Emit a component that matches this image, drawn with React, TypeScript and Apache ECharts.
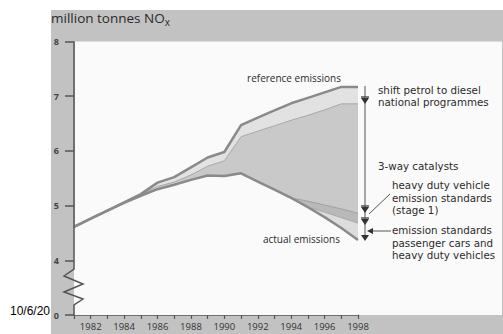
import React, { useEffect, useRef } from "react";
import * as echarts from "echarts";

const years = [1981, 1982, 1983, 1984, 1985, 1986, 1987, 1988, 1989, 1990, 1991, 1992, 1993, 1994, 1995, 1996, 1997, 1998];
const referenceEmissions = [4.61, 4.76, 4.91, 5.06, 5.21, 5.42, 5.52, 5.7, 5.88, 5.98, 6.47, 6.61, 6.74, 6.87, 6.97, 7.07, 7.17, 7.17];
const afterShiftNational = [4.61, 4.76, 4.91, 5.06, 5.2, 5.35, 5.43, 5.56, 5.72, 5.82, 6.26, 6.36, 6.46, 6.56, 6.65, 6.75, 6.86, 6.86];
const afterThreeWay = [4.61, 4.76, 4.91, 5.05, 5.18, 5.3, 5.38, 5.47, 5.55, 5.54, 5.59, 5.44, 5.29, 5.14, 5.08, 5.01, 4.94, 4.86];
const afterHdvStage1 = [4.61, 4.76, 4.91, 5.05, 5.18, 5.3, 5.38, 5.47, 5.55, 5.54, 5.59, 5.44, 5.29, 5.14, 4.97, 4.88, 4.78, 4.68];
const actualEmissions = [4.61, 4.76, 4.91, 5.05, 5.18, 5.3, 5.38, 5.47, 5.55, 5.54, 5.59, 5.44, 5.29, 5.14, 4.97, 4.79, 4.59, 4.37];
const yTickLabels: Record<number, string> = { 3: "0", 4: "4", 5: "5", 6: "6", 7: "7", 8: "8" };

const FONT = "'Open Sans', 'DejaVu Sans', sans-serif";
const NOTE_FONT = "'DejaVu Sans', 'Open Sans', sans-serif";

function pairs(vals: number[]) {
  return years.map((y, i) => [y, vals[i]]);
}

export default function App() {
  const ref = useRef<HTMLDivElement>(null);
  useEffect(() => {
    if (!ref.current) return;
    const chart = echarts.init(ref.current, null, { renderer: "svg" });
    const fill = (name: string, vals: number[], color: string) => ({
      type: "line",
      name,
      data: pairs(vals),
      symbol: "none",
      lineStyle: { width: 0 },
      areaStyle: { color, opacity: 1, origin: "start" },
      z: 2,
      silent: true,
    });
    const line = (name: string, vals: number[], color: string, width: number) => ({
      type: "line",
      name,
      data: pairs(vals),
      symbol: "none",
      lineStyle: { color, width },
      z: 4,
      silent: true,
    });
    const txt = (x: number, y: number, text: string, size = 10.3, align = "left", lh = 12.4, family = NOTE_FONT) => ({
      type: "text",
      x,
      y,
      z: 100,
      style: {
        text,
        fill: "#2a2a2a",
        fontSize: size,
        fontFamily: family,
        lineHeight: lh,
        align,
        verticalAlign: "top",
      },
    });
    const seg = (x1: number, y1: number, x2: number, y2: number, w = 1) => ({
      type: "line",
      z: 100,
      shape: { x1, y1, x2, y2 },
      style: { stroke: "#555", lineWidth: w },
    });
    const tri = (cx: number, cy: number) => ({
      type: "polygon",
      z: 100,
      shape: { points: [[cx - 4, cy - 3], [cx + 4, cy - 3], [cx, cy + 3]] },
      style: { fill: "#333" },
    });

    chart.setOption({
      animation: false,
      backgroundColor: "#ffffff",
      grid: { left: 74, right: 145, top: 41.5, bottom: 19, outerBoundsMode: "none" },
      xAxis: {
        type: "value",
        min: 1981,
        max: 1998,
        interval: 1,
        axisLine: { show: true, lineStyle: { color: "#555", width: 1.5 } },
        axisTick: { show: true, length: 4, lineStyle: { color: "#555", width: 1.2 } },
        axisLabel: {
          margin: 6,
          fontSize: 9.5,
          color: "#333",
          fontFamily: FONT,
          formatter: (v: number) => (v % 2 === 0 ? String(v) : ""),
        },
        splitLine: { show: false },
      },
      yAxis: {
        type: "value",
        min: 3,
        max: 8,
        interval: 1,
        axisLine: { show: false },
        axisTick: { show: true, length: 9, lineStyle: { color: "#555", width: 1.5 } },
        axisLabel: {
          margin: 15,
          fontSize: 9,
          fontWeight: "bold",
          color: "#444",
          fontFamily: FONT,
          formatter: (v: number) => yTickLabels[v] ?? "",
        },
        splitLine: { show: false },
      },
      series: [
        fill("reference fill", referenceEmissions, "#e2e2e2"),
        fill("national fill", afterShiftNational, "#c9c9c9"),
        fill("3-way fill", afterThreeWay, "#b9b9b9"),
        fill("hdv fill", afterHdvStage1, "#dcdcdc"),
        fill("actual fill", actualEmissions, "#fafafa"),
        line("national programmes", afterShiftNational, "#a9a9a9", 1),
        line("3-way catalysts", afterThreeWay, "#a0a0a0", 1),
        line("heavy duty stage 1", afterHdvStage1, "#a9a9a9", 1),
        line("reference emissions", referenceEmissions, "#8a8a8a", 2.5),
        line("actual emissions", actualEmissions, "#8a8a8a", 2.5),
      ],
      graphic: [
        { type: "rect", z: -20, shape: { x: 51, y: 10, width: 452, height: 324 }, style: { fill: "#c2c2c2" } },
        { type: "rect", z: -19, shape: { x: 75, y: 41.5, width: 427, height: 273.5 }, style: { fill: "#fafafa" } },
        {
          type: "text",
          x: 50,
          y: 311,
          z: 100,
          style: { text: "10/6/20", fill: "#000", font: "12px 'Liberation Sans', Arial, sans-serif", align: "right", verticalAlign: "middle" },
        },
        {
          type: "text",
          x: 51,
          y: 18,
          z: 100,
          style: {
            text: "{a|million tonnes NO}{b|x}",
            verticalAlign: "middle",
            rich: {
              a: { fontSize: 13.5, fontFamily: FONT, fill: "#2a2a2a", color: "#2a2a2a", lineHeight: 18 },
              b: { fontSize: 10, fontFamily: FONT, fill: "#2a2a2a", color: "#2a2a2a", lineHeight: 18, padding: [7, 0, 0, 0] },
            },
          },
        },
        {
          type: "polyline",
          z: 50,
          shape: { points: [[74, 41.5], [74, 269], [64, 276], [83, 284], [64, 292], [83, 299], [74, 305], [74, 315]] },
          style: { stroke: "#555", lineWidth: 1.5, fill: null },
        },
        txt(294, 72, "reference emissions", 10, "center", 12, FONT),
        txt(340, 233, "actual emissions", 10, "right", 12, FONT),
        seg(365, 86, 365, 238),
        seg(361, 97, 369, 97, 1.5),
        tri(365, 101),
        seg(361, 206, 369, 206, 1.5),
        tri(365, 210),
        seg(361, 218, 369, 218, 1.5),
        tri(365, 222),
        tri(365, 238),
        seg(369, 214, 390, 194),
        seg(391, 231, 371, 231),
        {
          type: "polygon",
          z: 100,
          shape: { points: [[367, 231], [373, 228], [373, 234]] },
          style: { fill: "#333" },
        },
        txt(378, 83.5, "shift petrol to diesel\nnational programmes"),
        txt(378, 159.5, "3-way catalysts"),
        txt(392, 179, "heavy duty vehicle\nemission standards\n(stage 1)"),
        txt(392, 224, "emission standards\npassenger cars and\nheavy duty vehicles"),
      ],
    });
    return () => chart.dispose();
  }, []);
  return <div ref={ref} style={{ position: "fixed", left: 0, top: 0, width: 503, height: 334 }} />;
}
